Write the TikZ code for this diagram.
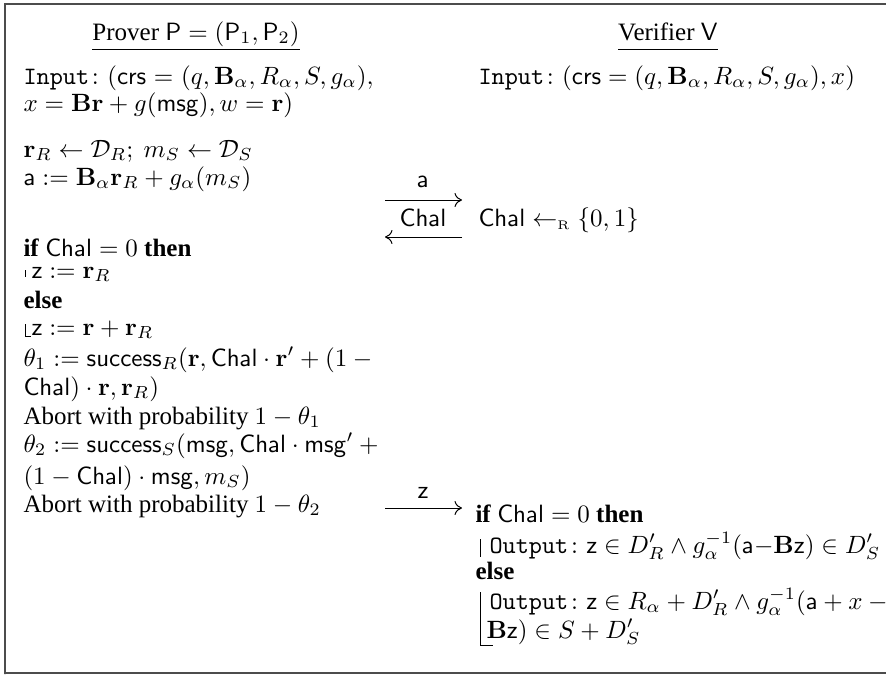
\documentclass[tikz,border=0pt]{standalone}
\usepackage{amsmath,amssymb}
\usepackage[no-math]{fontspec}
\setmainfont{Liberation Serif}
\usetikzlibrary{arrows.meta}
\tikzset{
  ln/.style={anchor=base west, inner sep=0pt, font=\fontsize{10}{12}\selectfont},
  hd/.style={anchor=base, inner sep=0pt, font=\fontsize{10}{12}\selectfont},
  lbl/.style={anchor=base, inner sep=0pt, font=\fontsize{10}{12}\selectfont},
  msgarrow/.style={-{To[length=3pt,width=5.6pt]}, line width=0.4pt},
  frameline/.style={line width=0.8pt, black!70},
  blockline/.style={line width=0.4pt}
}
\begin{document}
\begin{tikzpicture}[x=0.4pt,y=-0.4pt]
\useasboundingbox (0,0) rectangle (886,675);
% frame
\coordinate (f1) at (5,674);
\coordinate (f2) at (5,4);
\coordinate (f3) at (890,4);
\coordinate (f4) at (890,673);
\draw[frameline] (f4) -- (5,673) -- (f1) -- (f2) -- (f3);

% headers
\node[hd] (hp) at (196,40) {\underline{Prover $\mathsf{P}=(\mathsf{P}_1,\mathsf{P}_2)$}};
\node[hd] (hv) at (668,40) {\underline{Verifier $\mathsf{V}\vphantom{(}$}};

% prover
\node[ln] (p1) at (23,84) {\makebox[140pt][s]{$\mathtt{Input}\colon(\mathsf{crs}=(q,\mathbf{B}_\alpha,R_\alpha,S,g_\alpha),$}};
\node[ln] (p2) at (23,111) {$x=\mathbf{B}\mathbf{r}+g(\mathsf{msg}),w=\mathbf{r})$};
\node[ln] (p3) at (23,157) {$\mathbf{r}_R\leftarrow\mathcal{D}_R;\ m_S\leftarrow\mathcal{D}_S$};
\node[ln] (p4) at (23,185) {$\mathsf{a}:=\mathbf{B}_\alpha\mathbf{r}_R+g_\alpha(m_S)$};
\node[ln] (p5) at (23,256) {\textbf{if} $\mathsf{Chal}=0$ \textbf{then}};
\node[ln] (p6) at (31,278) {$\mathsf{z}:=\mathbf{r}_R$};
\node[ln] (p7) at (23,308) {\textbf{else}};
\node[ln] (p8) at (31,335) {$\mathsf{z}:=\mathbf{r}+\mathbf{r}_R$};
\node[ln] (p9) at (23,366) {$\theta_1:=\mathsf{success}_R(\mathbf{r},\mathsf{Chal}\cdot\mathbf{r}'+(1-{}$};
\node[ln] (p10) at (23,395) {$\mathsf{Chal})\cdot\mathbf{r},\mathbf{r}_R)$};
\node[ln] (p11) at (23,424) {Abort with probability $1-\theta_1$};
\node[ln] (p12) at (23,452) {$\theta_2:=\mathsf{success}_S(\mathsf{msg},\mathsf{Chal}\cdot\mathsf{msg}'+{}$};
\node[ln] (p13) at (23,484) {$(1-\mathsf{Chal})\cdot\mathsf{msg},m_S)$};
\node[ln] (p14) at (23,512) {Abort with probability $1-\theta_2$};

% prover block marks
\coordinate (b1a) at (25,270);
\coordinate (b1b) at (25,277);
\draw[blockline] (b1a) -- (b1b);
\coordinate (b2a) at (25,324);
\coordinate (b2b) at (31,336);
\draw[blockline] (b2a) |- (b2b);

% messages
\coordinate (a1) at (385,200);
\coordinate (a2) at (462,200);
\draw[msgarrow] (a1) -- (a2);
\node[lbl] (la) at (423,187) {$\mathsf{a}$};
\coordinate (c1) at (462,237);
\coordinate (c2) at (385,237);
\draw[msgarrow] (c1) -- (c2);
\node[lbl] (lc) at (423,226) {$\mathsf{Chal}$};
\coordinate (z1) at (385,508);
\coordinate (z2) at (462,508);
\draw[msgarrow] (z1) -- (z2);
\node[lbl] (lz) at (423,498) {$\mathsf{z}$};

% verifier
\node[ln] (v1) at (478,84) {$\mathtt{Input}\colon(\mathsf{crs}=(q,\mathbf{B}_\alpha,R_\alpha,S,g_\alpha),x)$};
\node[ln] (v2) at (478,226) {$\mathsf{Chal}\leftarrow_{\scriptscriptstyle\mathrm{R}}\{0,1\}$};
\node[ln] (v3) at (475,522) {\textbf{if} $\mathsf{Chal}=0$ \textbf{then}};
\node[ln] (v4) at (489,553) {$\mathtt{Output}\colon\mathsf{z}\in D'_R\wedge g_\alpha^{-1}(\mathsf{a}{-}\mathbf{B}\mathsf{z})\in D'_S$};
\node[ln] (v5) at (475,579) {\textbf{else}};
\node[ln] (v6) at (489,609) {$\mathtt{Output}\colon\mathsf{z}\in R_\alpha+D'_R\wedge g_\alpha^{-1}(\mathsf{a}+x-{}$};
\node[ln] (v7) at (486,638) {$\mathbf{B}\mathsf{z})\in S+D'_S$};

% verifier block marks
\coordinate (b3a) at (480,539);
\coordinate (b3b) at (480,557);
\draw[blockline] (b3a) -- (b3b);
\coordinate (b4a) at (480,592);
\coordinate (b4b) at (493,645);
\draw[blockline] (b4a) |- (b4b);
\end{tikzpicture}
\end{document}
